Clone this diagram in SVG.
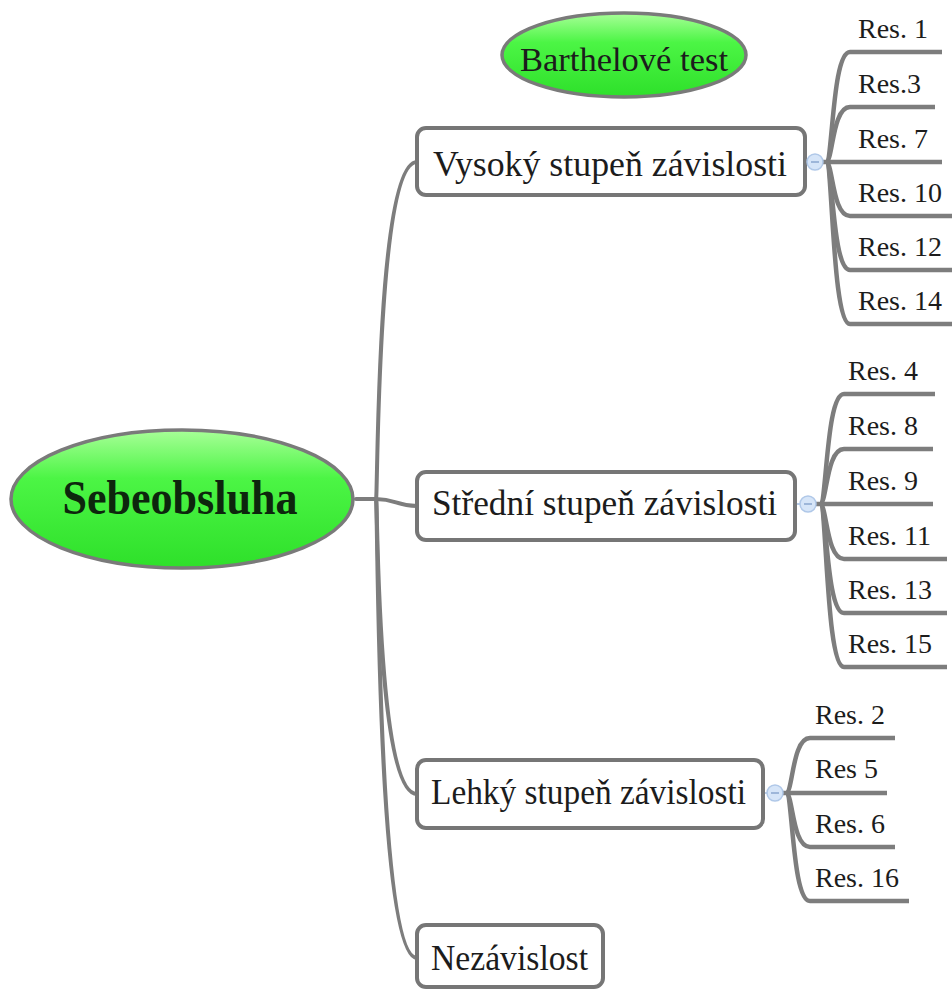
<svg xmlns="http://www.w3.org/2000/svg" width="952" height="989" viewBox="0 0 952 989">
  <defs>
    <linearGradient id="greenFill" x1="0" y1="0" x2="0" y2="1">
      <stop offset="0" stop-color="#a8ff98"/>
      <stop offset="0.35" stop-color="#4cf545"/>
      <stop offset="1" stop-color="#2ee02a"/>
    </linearGradient>
    <style>
      .topic { fill: url(#greenFill); stroke: #7a7a7a; stroke-width: 3.5; }
      .box { fill: #ffffff; stroke: #767676; stroke-width: 4; }
      .link { fill: none; stroke: #7d7d7d; stroke-width: 4; stroke-linecap: round; }
      .leaf { fill: none; stroke: #7d7d7d; stroke-width: 4.5; }
      .hub { fill: #d6e5f8; stroke: #b0c8e8; stroke-width: 1.5; }
      .hubmark { stroke: #8aa6cf; stroke-width: 1.5; }
      .hubline { stroke: #b6cbe6; stroke-width: 2; }
      text { font-family: "Liberation Serif", "Times New Roman", serif; fill: #1c1c1c; }
      .main { font-size: 48px; font-weight: bold; fill: #0d260d; }
      .label { font-size: 35px; }
      .res { font-size: 28px; }
    </style>
  </defs>

  <rect width="952" height="989" fill="#ffffff"/>

  <!-- connectors -->
  <g id="connectors">
    <!-- central topic to the four levels -->
    <path class="link" d="M356,499 L376,499"/>
    <path class="link" d="M376,499 C378,499 376,162 417,162"/>
    <path class="link" d="M376,499 C396,499 396,506 417,506"/>
    <path class="link" d="M376,499 C378,499 376,794 417,794"/>
    <path class="link" d="M376,499 C378,499 376,958 417,958"/>

    <!-- high dependency residents -->
    <line class="hubline" x1="805" y1="162" x2="828" y2="162"/>
    <path class="leaf" d="M826,162 C833,162 832,52 850,52 L942,52"/>
    <path class="leaf" d="M826,162 C833,162 832,107 850,107 L935,107"/>
    <path class="leaf" d="M822,162 L942,162"/>
    <path class="leaf" d="M826,162 C833,162 832,216 850,216 L952,216"/>
    <path class="leaf" d="M826,162 C833,162 832,270 850,270 L952,270"/>
    <path class="leaf" d="M826,162 C833,162 832,324 850,324 L952,324"/>

    <!-- medium dependency residents -->
    <line class="hubline" x1="795" y1="504" x2="822" y2="504"/>
    <path class="leaf" d="M820,504 C827,504 826,394 844,394 L935,394"/>
    <path class="leaf" d="M820,504 C827,504 826,449 844,449 L933,449"/>
    <path class="leaf" d="M816,504 L933,504"/>
    <path class="leaf" d="M820,504 C827,504 826,559 844,559 L947,559"/>
    <path class="leaf" d="M820,504 C827,504 826,613 844,613 L947,613"/>
    <path class="leaf" d="M820,504 C827,504 826,667 844,667 L947,667"/>

    <!-- light dependency residents -->
    <line class="hubline" x1="763" y1="793" x2="788" y2="793"/>
    <path class="leaf" d="M786,793 C793,793 792,738 810,738 L895,738"/>
    <path class="leaf" d="M782,793 L887,793"/>
    <path class="leaf" d="M786,793 C793,793 792,847 810,847 L895,847"/>
    <path class="leaf" d="M786,793 C793,793 792,901 810,901 L909,901"/>
  </g>

  <!-- central topic -->
  <g id="sebeobsluha">
    <ellipse class="topic" cx="182" cy="499" rx="171" ry="69"/>
    <text class="main" x="180" y="514" text-anchor="middle" textLength="235" lengthAdjust="spacingAndGlyphs">Sebeobsluha</text>
  </g>

  <!-- floating title -->
  <g id="barthel">
    <ellipse class="topic" cx="624" cy="55" rx="122" ry="42"/>
    <text x="624" y="71" text-anchor="middle" font-size="34" fill="#142a14" textLength="208" lengthAdjust="spacingAndGlyphs">Barthelové test</text>
  </g>

  <!-- dependency levels -->
  <g id="vysoky">
    <rect class="box" x="417" y="128" width="388" height="67" rx="9"/>
    <text class="label" x="433" y="176" textLength="354" lengthAdjust="spacingAndGlyphs">Vysoký stupeň závislosti</text>
  </g>
  <g id="stredni">
    <rect class="box" x="417" y="472" width="378" height="68" rx="9"/>
    <text class="label" x="432" y="515" textLength="345" lengthAdjust="spacingAndGlyphs">Střední stupeň závislosti</text>
  </g>
  <g id="lehky">
    <rect class="box" x="417" y="760" width="346" height="68" rx="9"/>
    <text class="label" x="431" y="804" textLength="315" lengthAdjust="spacingAndGlyphs">Lehký stupeň závislosti</text>
  </g>
  <g id="nezavislost">
    <rect class="box" x="417" y="925" width="186" height="62" rx="9"/>
    <text class="label" x="431" y="970" textLength="157" lengthAdjust="spacingAndGlyphs">Nezávislost</text>
  </g>

  <!-- collapse handles -->
  <g id="hub-vysoky">
    <circle class="hub" cx="815" cy="162" r="8"/>
    <line class="hubmark" x1="811" y1="162" x2="819" y2="162"/>
  </g>
  <g id="hub-stredni">
    <circle class="hub" cx="808" cy="504" r="8"/>
    <line class="hubmark" x1="804" y1="504" x2="812" y2="504"/>
  </g>
  <g id="hub-lehky">
    <circle class="hub" cx="775" cy="793" r="8"/>
    <line class="hubmark" x1="771" y1="793" x2="779" y2="793"/>
  </g>

  <!-- residents -->
  <g id="res-vysoky">
    <text class="res" x="858" y="38">Res. 1</text>
    <text class="res" x="858" y="93">Res.3</text>
    <text class="res" x="858" y="148">Res. 7</text>
    <text class="res" x="858" y="202">Res. 10</text>
    <text class="res" x="858" y="256">Res. 12</text>
    <text class="res" x="858" y="310">Res. 14</text>
  </g>
  <g id="res-stredni">
    <text class="res" x="848" y="380">Res. 4</text>
    <text class="res" x="848" y="435">Res. 8</text>
    <text class="res" x="848" y="490">Res. 9</text>
    <text class="res" x="848" y="545">Res. 11</text>
    <text class="res" x="848" y="599">Res. 13</text>
    <text class="res" x="848" y="653">Res. 15</text>
  </g>
  <g id="res-lehky">
    <text class="res" x="815" y="724">Res. 2</text>
    <text class="res" x="815" y="778">Res 5</text>
    <text class="res" x="815" y="833">Res. 6</text>
    <text class="res" x="815" y="887">Res. 16</text>
  </g>
</svg>
